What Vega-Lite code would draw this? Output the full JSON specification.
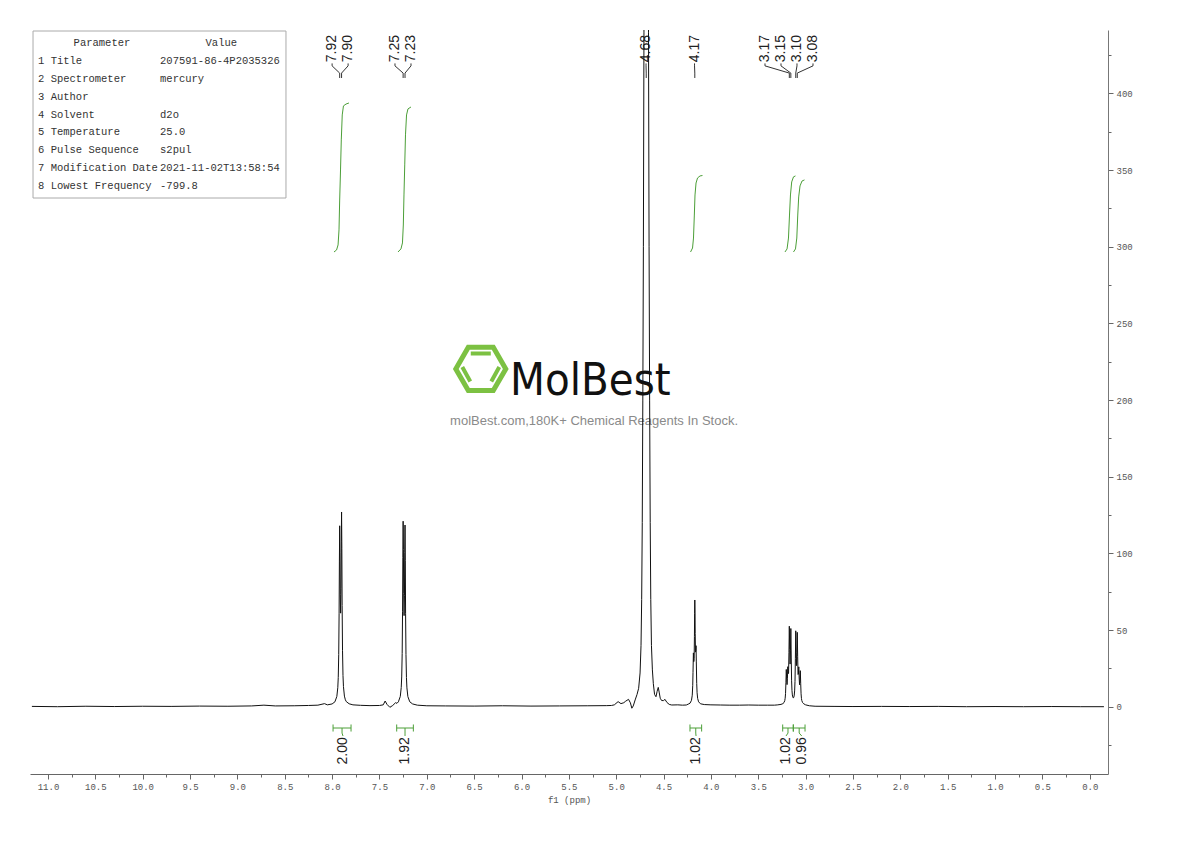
{
  "$schema": "https://vega.github.io/schema/vega-lite/v6.json",
  "width": 1078,
  "height": 744,
  "autosize": {"type": "none"},
  "padding": {"left": 30, "top": 30, "right": 82, "bottom": 67},
  "background": "white",
  "config": {"view": {"stroke": null}, "axis": {"grid": false}},
  "datasets": {
    "spec": [
      {"p": 11.17, "v": 0.2}, {"p": 10.9, "v": 0.0}, {"p": 10.6, "v": 0.3}, {"p": 10.3, "v": 0.1}, {"p": 10.0, "v": 0.3},
      {"p": 9.7, "v": 0.2}, {"p": 9.4, "v": 0.4}, {"p": 9.1, "v": 0.3}, {"p": 8.85, "v": 0.5}, {"p": 8.72, "v": 1.0},
      {"p": 8.6, "v": 0.5}, {"p": 8.4, "v": 0.6}, {"p": 8.25, "v": 0.8}, {"p": 8.15, "v": 1.0}, {"p": 8.08, "v": 2.0},
      {"p": 8.05, "v": 1.2}, {"p": 8.0, "v": 1.8}, {"p": 7.97, "v": 3.2}, {"p": 7.95, "v": 6.7}, {"p": 7.94, "v": 12.4},
      {"p": 7.935, "v": 19.1}, {"p": 7.93, "v": 34}, {"p": 7.926, "v": 61}, {"p": 7.923, "v": 95}, {"p": 7.92, "v": 118},
      {"p": 7.917, "v": 100.4}, {"p": 7.914, "v": 73.2}, {"p": 7.91, "v": 61}, {"p": 7.906, "v": 77}, {"p": 7.903, "v": 108},
      {"p": 7.9, "v": 127}, {"p": 7.897, "v": 103}, {"p": 7.894, "v": 66}, {"p": 7.89, "v": 36.5}, {"p": 7.885, "v": 20.3},
      {"p": 7.88, "v": 13.1}, {"p": 7.87, "v": 6.9}, {"p": 7.86, "v": 4.5}, {"p": 7.85, "v": 3.3}, {"p": 7.82, "v": 1.9},
      {"p": 7.78, "v": 1.2}, {"p": 7.7, "v": 0.9}, {"p": 7.6, "v": 0.7}, {"p": 7.5, "v": 0.8}, {"p": 7.46, "v": 1.2},
      {"p": 7.44, "v": 3.7}, {"p": 7.42, "v": 1.5}, {"p": 7.39, "v": -0.4}, {"p": 7.36, "v": 0.8}, {"p": 7.33, "v": 2.6},
      {"p": 7.315, "v": 2.2}, {"p": 7.3, "v": 3.2}, {"p": 7.28, "v": 6.7}, {"p": 7.27, "v": 12.5}, {"p": 7.265, "v": 19.4},
      {"p": 7.26, "v": 34.7}, {"p": 7.256, "v": 62.3}, {"p": 7.253, "v": 97.4}, {"p": 7.25, "v": 121}, {"p": 7.247, "v": 102.5},
      {"p": 7.244, "v": 73.7}, {"p": 7.24, "v": 59.4}, {"p": 7.236, "v": 72.7}, {"p": 7.233, "v": 100.4}, {"p": 7.23, "v": 118.5},
      {"p": 7.227, "v": 95.2}, {"p": 7.224, "v": 61}, {"p": 7.22, "v": 34}, {"p": 7.215, "v": 19}, {"p": 7.21, "v": 12.3},
      {"p": 7.2, "v": 6.6}, {"p": 7.18, "v": 3.2}, {"p": 7.15, "v": 1.8}, {"p": 7.1, "v": 1.0}, {"p": 7.0, "v": 0.6},
      {"p": 6.8, "v": 0.5}, {"p": 6.5, "v": 0.4}, {"p": 6.2, "v": 0.6}, {"p": 5.9, "v": 0.4}, {"p": 5.6, "v": 0.5},
      {"p": 5.3, "v": 0.6}, {"p": 5.1, "v": 0.7}, {"p": 5.05, "v": 0.8}, {"p": 5.02, "v": 1.2}, {"p": 4.98, "v": 3.3},
      {"p": 4.95, "v": 2.0}, {"p": 4.92, "v": 2.6}, {"p": 4.9, "v": 3.6}, {"p": 4.87, "v": 4.8}, {"p": 4.85, "v": 2.5},
      {"p": 4.835, "v": -1.0}, {"p": 4.82, "v": 0.5}, {"p": 4.8, "v": 4.4}, {"p": 4.78, "v": 8}, {"p": 4.763, "v": 12},
      {"p": 4.748, "v": 22}, {"p": 4.738, "v": 40}, {"p": 4.731, "v": 70}, {"p": 4.725, "v": 120}, {"p": 4.719, "v": 200},
      {"p": 4.713, "v": 300}, {"p": 4.707, "v": 440}, {"p": 4.701, "v": 600}, {"p": 4.693, "v": 900}, {"p": 4.683, "v": 1200},
      {"p": 4.673, "v": 900}, {"p": 4.665, "v": 600}, {"p": 4.659, "v": 440}, {"p": 4.653, "v": 300}, {"p": 4.647, "v": 200},
      {"p": 4.641, "v": 120}, {"p": 4.635, "v": 70}, {"p": 4.628, "v": 40}, {"p": 4.618, "v": 24}, {"p": 4.608, "v": 15},
      {"p": 4.595, "v": 8}, {"p": 4.58, "v": 6.5}, {"p": 4.568, "v": 10}, {"p": 4.556, "v": 12.6}, {"p": 4.545, "v": 9},
      {"p": 4.535, "v": 5.5}, {"p": 4.52, "v": 4.0}, {"p": 4.5, "v": 4.0}, {"p": 4.485, "v": 4.8}, {"p": 4.465, "v": 2.8},
      {"p": 4.44, "v": 1.5}, {"p": 4.414, "v": 1.1}, {"p": 4.35, "v": 1.2}, {"p": 4.3, "v": 1.0}, {"p": 4.26, "v": 1.1},
      {"p": 4.24, "v": 1.65}, {"p": 4.22, "v": 2.3}, {"p": 4.205, "v": 4.2}, {"p": 4.197, "v": 7.5}, {"p": 4.192, "v": 13.7},
      {"p": 4.189, "v": 22.2}, {"p": 4.185, "v": 35.1}, {"p": 4.181, "v": 29.4}, {"p": 4.177, "v": 31.4}, {"p": 4.174, "v": 45.8},
      {"p": 4.172, "v": 60.9}, {"p": 4.17, "v": 69.6}, {"p": 4.168, "v": 61.7}, {"p": 4.166, "v": 47.7}, {"p": 4.163, "v": 35.6},
      {"p": 4.16, "v": 36.4}, {"p": 4.157, "v": 39.8}, {"p": 4.154, "v": 29.2}, {"p": 4.15, "v": 15.2}, {"p": 4.146, "v": 9.1},
      {"p": 4.14, "v": 5.4}, {"p": 4.13, "v": 3.2}, {"p": 4.11, "v": 1.9}, {"p": 4.07, "v": 1.4}, {"p": 4.0, "v": 1.2},
      {"p": 3.9, "v": 1.1}, {"p": 3.8, "v": 1.0}, {"p": 3.7, "v": 1.0}, {"p": 3.6, "v": 1.1}, {"p": 3.5, "v": 1.0},
      {"p": 3.4, "v": 1.0}, {"p": 3.33, "v": 1.0}, {"p": 3.3, "v": 1.15}, {"p": 3.26, "v": 1.5}, {"p": 3.24, "v": 2.0},
      {"p": 3.228, "v": 2.7}, {"p": 3.22, "v": 4.0}, {"p": 3.216, "v": 5.5}, {"p": 3.212, "v": 8.5}, {"p": 3.208, "v": 15.6},
      {"p": 3.204, "v": 24.3}, {"p": 3.2, "v": 18.0}, {"p": 3.196, "v": 14.4}, {"p": 3.192, "v": 18.6}, {"p": 3.188, "v": 26.1},
      {"p": 3.184, "v": 21.5}, {"p": 3.18, "v": 21.8}, {"p": 3.176, "v": 35.2}, {"p": 3.172, "v": 52.5}, {"p": 3.168, "v": 37.4},
      {"p": 3.164, "v": 27.8}, {"p": 3.16, "v": 36.4}, {"p": 3.156, "v": 51.0}, {"p": 3.152, "v": 32.4}, {"p": 3.148, "v": 16.9},
      {"p": 3.144, "v": 10.5}, {"p": 3.14, "v": 7.7}, {"p": 3.136, "v": 6.4}, {"p": 3.132, "v": 5.8}, {"p": 3.128, "v": 5.8},
      {"p": 3.124, "v": 6.3}, {"p": 3.12, "v": 7.6}, {"p": 3.116, "v": 10.3}, {"p": 3.112, "v": 16.5}, {"p": 3.108, "v": 31.6},
      {"p": 3.104, "v": 49.5}, {"p": 3.1, "v": 35.4}, {"p": 3.096, "v": 26.8}, {"p": 3.092, "v": 35.0}, {"p": 3.088, "v": 48.5},
      {"p": 3.084, "v": 32.9}, {"p": 3.08, "v": 21.0}, {"p": 3.076, "v": 21.3}, {"p": 3.072, "v": 26.0}, {"p": 3.068, "v": 18.7},
      {"p": 3.064, "v": 14.3}, {"p": 3.06, "v": 17.7}, {"p": 3.056, "v": 23.5}, {"p": 3.052, "v": 15.3}, {"p": 3.048, "v": 8.4},
      {"p": 3.044, "v": 5.4}, {"p": 3.04, "v": 4.0}, {"p": 3.032, "v": 2.7}, {"p": 3.02, "v": 1.9}, {"p": 3.0, "v": 1.2},
      {"p": 2.96, "v": 0.6}, {"p": 2.9, "v": 0.3}, {"p": 2.7, "v": 0.2}, {"p": 2.5, "v": 0.1}, {"p": 2.2, "v": 0.2},
      {"p": 1.9, "v": 0.1}, {"p": 1.6, "v": 0.2}, {"p": 1.3, "v": 0.0}, {"p": 1.0, "v": 0.1}, {"p": 0.7, "v": 0.0},
      {"p": 0.4, "v": 0.1}, {"p": 0.1, "v": 0.0}, {"p": -0.15, "v": 0.0}
    ],
    "integ": [
      {"id": 1, "p": 7.98, "v": 296.6}, {"id": 1, "p": 7.953, "v": 297.9}, {"id": 1, "p": 7.937, "v": 301.2}, {"id": 1, "p": 7.927, "v": 311},
      {"id": 1, "p": 7.92, "v": 330.5}, {"id": 1, "p": 7.911, "v": 350.1}, {"id": 1, "p": 7.903, "v": 369.7}, {"id": 1, "p": 7.893, "v": 386},
      {"id": 1, "p": 7.88, "v": 391.9}, {"id": 1, "p": 7.853, "v": 393.1}, {"id": 1, "p": 7.822, "v": 393.8},
      {"id": 2, "p": 7.304, "v": 296.6}, {"id": 2, "p": 7.273, "v": 298.6}, {"id": 2, "p": 7.257, "v": 302.5}, {"id": 2, "p": 7.248, "v": 314.2},
      {"id": 2, "p": 7.241, "v": 333.8}, {"id": 2, "p": 7.233, "v": 353.4}, {"id": 2, "p": 7.225, "v": 373}, {"id": 2, "p": 7.214, "v": 386},
      {"id": 2, "p": 7.199, "v": 389.9}, {"id": 2, "p": 7.167, "v": 391.2},
      {"id": 3, "p": 4.215, "v": 296.6}, {"id": 3, "p": 4.194, "v": 299.2}, {"id": 3, "p": 4.184, "v": 305.7}, {"id": 3, "p": 4.175, "v": 320.7},
      {"id": 3, "p": 4.168, "v": 333.8}, {"id": 3, "p": 4.157, "v": 341.6}, {"id": 3, "p": 4.141, "v": 344.9}, {"id": 3, "p": 4.115, "v": 346.2},
      {"id": 3, "p": 4.089, "v": 346.5},
      {"id": 4, "p": 3.218, "v": 296.6}, {"id": 4, "p": 3.196, "v": 298.6}, {"id": 4, "p": 3.181, "v": 305.7}, {"id": 4, "p": 3.17, "v": 320.7},
      {"id": 4, "p": 3.16, "v": 333.8}, {"id": 4, "p": 3.147, "v": 342.3}, {"id": 4, "p": 3.128, "v": 345.6}, {"id": 4, "p": 3.107, "v": 346.2},
      {"id": 5, "p": 3.128, "v": 296.6}, {"id": 5, "p": 3.107, "v": 298.6}, {"id": 5, "p": 3.093, "v": 305.7}, {"id": 5, "p": 3.083, "v": 320.7},
      {"id": 5, "p": 3.073, "v": 332.5}, {"id": 5, "p": 3.059, "v": 339.7}, {"id": 5, "p": 3.038, "v": 342.9}, {"id": 5, "p": 3.012, "v": 343.6}
    ],
    "pl": [
      {"t": "7.92", "x": 8.0, "px": 7.92}, {"t": "7.90", "x": 7.831, "px": 7.9},
      {"t": "7.25", "x": 7.336, "px": 7.25}, {"t": "7.23", "x": 7.167, "px": 7.23},
      {"t": "4.68", "x": 4.685, "px": 4.683}, {"t": "4.17", "x": 4.173, "px": 4.17},
      {"t": "3.17", "x": 3.429, "px": 3.172}, {"t": "3.15", "x": 3.26, "px": 3.156},
      {"t": "3.10", "x": 3.091, "px": 3.104}, {"t": "3.08", "x": 2.922, "px": 3.088}
    ],
    "il": [
      {"t": "2.00", "a": 7.99, "b": 7.8, "c": 7.895, "lx": 7.885},
      {"t": "1.92", "a": 7.318, "b": 7.142, "c": 7.23, "lx": 7.23},
      {"t": "1.02", "a": 4.221, "b": 4.098, "c": 4.16, "lx": 4.157},
      {"t": "1.02", "a": 3.242, "b": 3.13, "c": 3.186, "lx": 3.207},
      {"t": "0.96", "a": 3.13, "b": 3.006, "c": 3.068, "lx": 3.041}
    ],
    "tb": [
      {"r": 1, "n": "1 Title", "val": "207591-86-4P2035326"},
      {"r": 2, "n": "2 Spectrometer", "val": "mercury"},
      {"r": 3, "n": "3 Author", "val": ""},
      {"r": 4, "n": "4 Solvent", "val": "d2o"},
      {"r": 5, "n": "5 Temperature", "val": "25.0"},
      {"r": 6, "n": "6 Pulse Sequence", "val": "s2pul"},
      {"r": 7, "n": "7 Modification Date", "val": "2021-11-02T13:58:54"},
      {"r": 8, "n": "8 Lowest Frequency", "val": "-799.8"}
    ]
  },
  "layer": [
    {
      "layer": [
        {
          "data": {"values": [{"k": "hex"}]},
          "mark": {"type": "point", "shape": "M-1,0L-0.5,-0.866L0.5,-0.866L1,0L0.5,0.866L-0.5,0.866Z", "size": 2500, "filled": false, "stroke": "#7cc142", "strokeWidth": 5, "opacity": 1},
          "encoding": {
            "x": {"datum": 6.43, "type": "quantitative", "scale": {"domain": [-0.193, 11.19], "reverse": true, "nice": false, "zero": false}, "axis": null},
            "y": {"datum": 220.3, "type": "quantitative", "scale": {"domain": [-43.9, 441.4], "nice": false, "zero": false}, "axis": null}
          }
        },
        {
          "data": {"values": [{"k": "hexin"}]},
          "mark": {"type": "point", "shape": "M-0.4,-0.62L0.4,-0.62M-0.74,-0.08L-0.42,0.5M0.74,-0.08L0.42,0.5", "size": 2500, "filled": false, "stroke": "#7cc142", "strokeWidth": 4, "opacity": 1},
          "encoding": {
            "x": {"datum": 6.43, "type": "quantitative", "axis": null},
            "y": {"datum": 220.3, "type": "quantitative", "axis": null}
          }
        },
        {
          "data": {"values": [{"t": "MolBest"}]},
          "mark": {"type": "text", "align": "left", "baseline": "alphabetic", "fontSize": 45, "font": "Liberation Sans Narrow, DejaVu Sans Condensed, sans-serif", "fill": "#111"},
          "encoding": {
            "x": {"datum": 6.121, "type": "quantitative", "axis": null},
            "y": {"datum": 203.3, "type": "quantitative", "axis": null},
            "text": {"field": "t"}
          }
        },
        {
          "data": {"values": [{"t": "molBest.com,180K+ Chemical Reagents In Stock."}]},
          "mark": {"type": "text", "align": "center", "baseline": "middle", "fontSize": 13, "font": "Liberation Sans", "fill": "#8a8a8a"},
          "encoding": {
            "x": {"datum": 5.234, "type": "quantitative", "axis": null},
            "y": {"datum": 186.4, "type": "quantitative", "axis": null},
            "text": {"field": "t"}
          }
        },
        {
          "data": {"name": "integ"},
          "mark": {"type": "line", "stroke": "#4c9f38", "strokeWidth": 1},
          "encoding": {
            "x": {"field": "p", "type": "quantitative", "axis": {"orient": "bottom", "values": [0.25, 0.75, 1.25, 1.75, 2.25, 2.75, 3.25, 3.75, 4.25, 4.75, 5.25, 5.75, 6.25, 6.75, 7.25, 7.75, 8.25, 8.75, 9.25, 9.75, 10.25, 10.75], "tickSize": 3, "tickColor": "#666", "labels": false, "domain": false, "title": null}},
            "y": {"field": "v", "type": "quantitative", "axis": {"orient": "right", "values": [-25, 25, 75, 125, 175, 225, 275, 325, 375, 425], "tickSize": 3, "tickColor": "#666", "labels": false, "domain": false, "title": null}},
            "detail": {"field": "id"}
          }
        },
        {
          "data": {"name": "il"},
          "mark": {"type": "rule", "stroke": "#4c9f38", "strokeWidth": 1},
          "encoding": {
            "x": {"field": "a", "type": "quantitative", "axis": null},
            "x2": {"field": "b"},
            "y": {"datum": -13.9, "type": "quantitative", "axis": null}
          }
        },
        {
          "data": {"name": "il"},
          "mark": {"type": "rule", "stroke": "#4c9f38", "strokeWidth": 1},
          "encoding": {
            "x": {"field": "a", "type": "quantitative", "axis": null},
            "y": {"datum": -11.6, "type": "quantitative", "axis": null},
            "y2": {"datum": -16.2}
          }
        },
        {
          "data": {"name": "il"},
          "mark": {"type": "rule", "stroke": "#4c9f38", "strokeWidth": 1},
          "encoding": {
            "x": {"field": "b", "type": "quantitative", "axis": null},
            "y": {"datum": -11.6, "type": "quantitative", "axis": null},
            "y2": {"datum": -16.2}
          }
        },
        {
          "data": {"name": "il"},
          "mark": {"type": "rule", "stroke": "#4c9f38", "strokeWidth": 1},
          "encoding": {
            "x": {"field": "c", "type": "quantitative", "axis": null},
            "y": {"datum": -13.9, "type": "quantitative", "axis": null},
            "y2": {"datum": -17.2}
          }
        },
        {
          "data": {"name": "il"},
          "mark": {"type": "rule", "stroke": "#4c9f38", "strokeWidth": 1},
          "encoding": {
            "x": {"field": "c", "type": "quantitative", "axis": null},
            "x2": {"field": "lx"},
            "y": {"datum": -17.2, "type": "quantitative", "axis": null},
            "y2": {"datum": -19.1}
          }
        },
        {
          "data": {"name": "il"},
          "mark": {"type": "text", "angle": 270, "align": "right", "baseline": "middle", "fontSize": 14, "font": "Liberation Sans", "fill": "#222"},
          "encoding": {
            "x": {"field": "lx", "type": "quantitative", "axis": null},
            "y": {"datum": -19.9, "type": "quantitative", "axis": null},
            "text": {"field": "t"}
          }
        },
        {
          "data": {"name": "pl"},
          "mark": {"type": "text", "angle": 270, "align": "left", "baseline": "middle", "fontSize": 14, "font": "Liberation Sans", "fill": "#222"},
          "encoding": {
            "x": {"field": "x", "type": "quantitative", "axis": null},
            "y": {"datum": 420.4, "type": "quantitative", "axis": null},
            "text": {"field": "t"}
          }
        },
        {
          "data": {"name": "pl"},
          "mark": {"type": "rule", "stroke": "#333", "strokeWidth": 1},
          "encoding": {
            "x": {"field": "x", "type": "quantitative", "axis": null},
            "y": {"datum": 419.6, "type": "quantitative", "axis": null},
            "y2": {"datum": 418.0}
          }
        },
        {
          "data": {"name": "pl"},
          "mark": {"type": "rule", "stroke": "#333", "strokeWidth": 1},
          "encoding": {
            "x": {"field": "x", "type": "quantitative", "axis": null},
            "x2": {"field": "px"},
            "y": {"datum": 418.0, "type": "quantitative", "axis": null},
            "y2": {"datum": 413.3}
          }
        },
        {
          "data": {"name": "pl"},
          "mark": {"type": "rule", "stroke": "#333", "strokeWidth": 1},
          "encoding": {
            "x": {"field": "px", "type": "quantitative", "axis": null},
            "y": {"datum": 413.3, "type": "quantitative", "axis": null},
            "y2": {"datum": 410.1}
          }
        },
        {
          "data": {"name": "spec"},
          "mark": {"type": "line", "stroke": "#111", "strokeWidth": 1, "clip": true},
          "encoding": {
            "x": {"field": "p", "type": "quantitative", "axis": {"orient": "bottom", "values": [0, 0.5, 1, 1.5, 2, 2.5, 3, 3.5, 4, 4.5, 5, 5.5, 6, 6.5, 7, 7.5, 8, 8.5, 9, 9.5, 10, 10.5, 11], "format": ".1f", "tickSize": 5, "tickColor": "#666", "domainColor": "#666", "labelFont": "Liberation Mono", "labelFontSize": 9, "labelColor": "#555", "labelPadding": 3, "labelFlush": false, "labelOverlap": false, "labelBound": false, "title": "f1 (ppm)", "titleFont": "Liberation Mono", "titleFontSize": 9, "titleFontWeight": "normal", "titleColor": "#555", "titlePadding": 4}},
            "y": {"field": "v", "type": "quantitative", "axis": {"orient": "right", "values": [0, 50, 100, 150, 200, 250, 300, 350, 400], "tickSize": 5, "tickColor": "#666", "domainColor": "#777", "labelFont": "Liberation Mono", "labelFontSize": 9, "labelColor": "#555", "labelPadding": 3, "labelFlush": false, "labelOverlap": false, "title": null}}
          }
        }
      ],
      "resolve": {"axis": {"x": "independent", "y": "independent"}}
    },
    {
      "layer": [
        {
          "data": {"values": [{"k": "box"}]},
          "mark": {"type": "rect", "fill": "white", "stroke": "#aaa", "strokeWidth": 1},
          "encoding": {
            "x": {"datum": 11.158, "type": "quantitative", "axis": null},
            "x2": {"datum": 8.487},
            "y": {"datum": -0.67, "type": "quantitative", "scale": {"domain": [-0.726, 40.84], "reverse": true, "nice": false, "zero": false}, "axis": null},
            "y2": {"datum": 8.66}
          }
        },
        {
          "data": {"values": [{"h": "Parameter", "r": 0}]},
          "mark": {"type": "text", "align": "center", "baseline": "middle", "fontSize": 10.5, "font": "Liberation Mono", "fill": "#333"},
          "encoding": {
            "x": {"datum": 10.43, "type": "quantitative", "axis": null},
            "y": {"field": "r", "type": "quantitative", "axis": null},
            "text": {"field": "h"}
          }
        },
        {
          "data": {"values": [{"h": "Value", "r": 0}]},
          "mark": {"type": "text", "align": "center", "baseline": "middle", "fontSize": 10.5, "font": "Liberation Mono", "fill": "#333"},
          "encoding": {
            "x": {"datum": 9.17, "type": "quantitative", "axis": null},
            "y": {"field": "r", "type": "quantitative", "axis": null},
            "text": {"field": "h"}
          }
        },
        {
          "data": {"name": "tb"},
          "mark": {"type": "text", "align": "left", "baseline": "middle", "fontSize": 10.5, "font": "Liberation Mono", "fill": "#333"},
          "encoding": {
            "x": {"datum": 11.105, "type": "quantitative", "axis": null},
            "y": {"field": "r", "type": "quantitative", "axis": null},
            "text": {"field": "n"}
          }
        },
        {
          "data": {"name": "tb"},
          "mark": {"type": "text", "align": "left", "baseline": "middle", "fontSize": 10.5, "font": "Liberation Mono", "fill": "#333"},
          "encoding": {
            "x": {"datum": 9.817, "type": "quantitative", "axis": null},
            "y": {"field": "r", "type": "quantitative", "axis": null},
            "text": {"field": "val"}
          }
        }
      ]
    }
  ],
  "resolve": {"scale": {"y": "independent"}, "axis": {"x": "independent", "y": "independent"}}
}
